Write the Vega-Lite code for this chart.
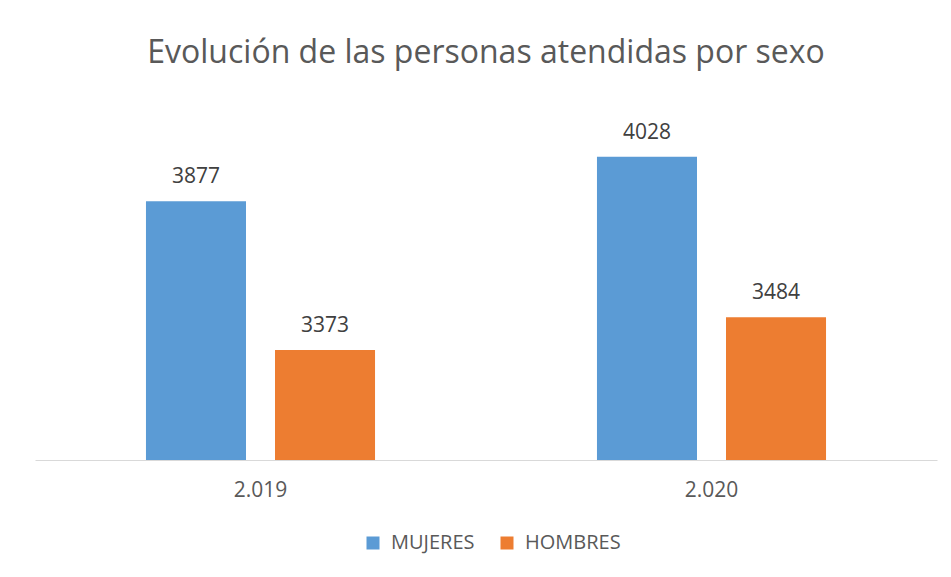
{
  "$schema": "https://vega.github.io/schema/vega-lite/v6.json",
  "width": 902,
  "height": 354,
  "autosize": {"type": "none"},
  "padding": {"left": 35, "top": 106, "right": 14, "bottom": 117},
  "background": "white",
  "title": {
    "text": "Evolución de las personas atendidas por sexo",
    "font": "Open Sans",
    "fontSize": 32,
    "fontWeight": "normal",
    "color": "#595959",
    "anchor": "middle",
    "offset": 36
  },
  "data": {
    "values": [
      {"year": "2.019", "sexo": "MUJERES", "value": 3877},
      {"year": "2.019", "sexo": "HOMBRES", "value": 3373},
      {"year": "2.020", "sexo": "MUJERES", "value": 4028},
      {"year": "2.020", "sexo": "HOMBRES", "value": 3484}
    ]
  },
  "encoding": {
    "x": {
      "field": "year",
      "type": "nominal",
      "scale": {"paddingInner": 0, "paddingOuter": 0},
      "axis": {
        "title": null,
        "labelAngle": 0,
        "ticks": false,
        "domainColor": "#d9d9d9",
        "domainWidth": 1,
        "labelFont": "Open Sans",
        "labelFontSize": 21,
        "labelColor": "#595959",
        "labelPadding": 19
      }
    },
    "xOffset": {
      "field": "sexo",
      "type": "nominal",
      "sort": ["MUJERES", "HOMBRES"],
      "scale": {"paddingInner": 0.2248, "paddingOuter": 0.86}
    },
    "y": {
      "field": "value",
      "type": "quantitative",
      "scale": {"domain": [3000, 4200], "zero": false, "clamp": true},
      "axis": null
    }
  },
  "layer": [
    {
      "mark": {"type": "bar"},
      "encoding": {
        "color": {
          "field": "sexo",
          "type": "nominal",
          "sort": ["MUJERES", "HOMBRES"],
          "scale": {"domain": ["MUJERES", "HOMBRES"], "range": ["#5B9BD5", "#ED7D31"]},
          "legend": {
            "title": null,
            "orient": "none",
            "legendX": 328,
            "legendY": 427,
            "direction": "horizontal",
            "symbolType": "square",
            "symbolSize": 169,
            "symbolStrokeWidth": 0,
            "labelOffset": 8,
            "labelFont": "Open Sans",
            "labelFontSize": 20,
            "labelColor": "#595959",
            "columnPadding": 22
          }
        }
      }
    },
    {
      "mark": {"type": "text", "baseline": "middle", "dy": -24, "font": "Open Sans", "fontSize": 21, "color": "#404040"},
      "encoding": {
        "text": {"field": "value", "type": "quantitative", "format": "d"}
      }
    }
  ],
  "config": {"view": {"stroke": null}}
}
